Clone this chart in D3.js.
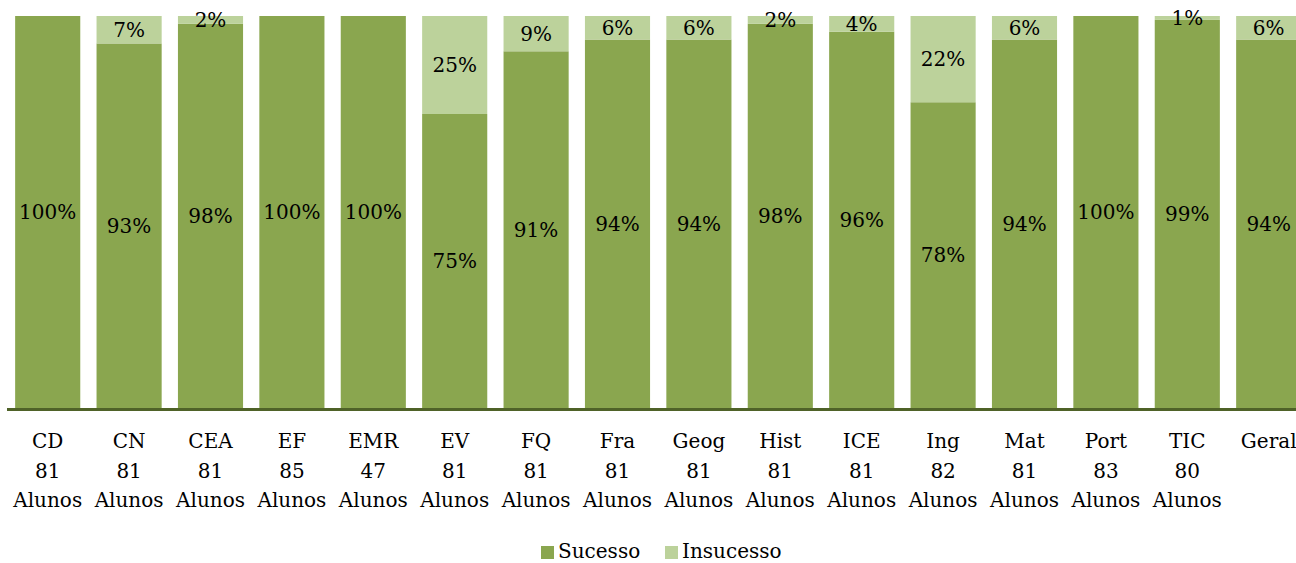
<!DOCTYPE html>
<html><head><meta charset="utf-8">
<script src="https://cdn.jsdelivr.net/npm/d3@7"></script>
<style>
html,body{margin:0;padding:0;background:#fff;}
svg{display:block;}
text{font-family:"DejaVu Serif",serif;fill:#000;}
</style></head>
<body>
<svg id="chart" width="1296" height="563"></svg>
<script>
const categories = ["CD","CN","CEA","EF","EMR","EV","FQ","Fra","Geog","Hist","ICE","Ing","Mat","Port","TIC","Geral"];
const alunos = ["81","81","81","85","47","81","81","81","81","81","81","82","81","83","80",""];
const sucesso = [100,93,98,100,100,75,91,94,94,98,96,78,94,100,99,94];
const insucesso = [0,7,2,0,0,25,9,6,6,2,4,22,6,0,1,6];
const seriesNames = ["Sucesso","Insucesso"];
const colors = ["#8aa64f","#bcd29b"];

const svg = d3.select("#chart");
const W = 1296;
const x = d3.scaleBand().domain(categories).range([7, 7 + 16*81.4]).paddingInner(0.2).paddingOuter(0.1);
const y = d3.scaleLinear().domain([0,100]).range([408,16]);

const rows = categories.map((c,i)=>({cat:c, Sucesso:sucesso[i], Insucesso:insucesso[i]}));
const stack = d3.stack().keys(seriesNames)(rows);

const g = svg.append("g");
stack.forEach((layer, li) => {
  const lg = g.append("g");
  lg.selectAll("rect").data(layer).join("rect")
    .attr("x", d => x(d.data.cat))
    .attr("width", x.bandwidth())
    .attr("y", d => y(d[1]))
    .attr("height", d => y(d[0]) - y(d[1]))
    .attr("fill", colors[li]);
  lg.selectAll("text").data(layer.filter(d => d[1]-d[0] > 0)).join("text")
    .attr("x", d => x(d.data.cat) + x.bandwidth()/2)
    .attr("y", d => (y(d[0]) + y(d[1]))/2)
    .attr("text-anchor","middle")
    .attr("dominant-baseline","central")
    .attr("font-size", 20)
    .text(d => (d[1]-d[0]) + "%");
});

// axis line
svg.append("line").attr("x1",7).attr("x2",W).attr("y1",409.5).attr("y2",409.5)
  .attr("stroke","#4f6228").attr("stroke-width",3);

// category labels
const ax = svg.append("g").attr("transform","translate(0,420)")
  .call(d3.axisBottom(x).tickSize(0).tickPadding(0));
ax.select(".domain").remove();
ax.selectAll(".tick text").each(function(d,i){
  const t = d3.select(this);
  t.text(null).attr("y",0).attr("dy",null)
   .attr("font-size",20).attr("font-family","DejaVu Serif, serif").attr("fill","#000");
  t.append("tspan").attr("x",0).attr("y",28).text(d);
  const idx = categories.indexOf(d);
  if (alunos[idx]) {
    t.append("tspan").attr("x",0).attr("y",57.5).text(alunos[idx]);
    t.append("tspan").attr("x",0).attr("y",87).text("Alunos");
  }
});

// legend
const legend = svg.append("g");
const lx = [541, 665];
seriesNames.forEach((n,i)=>{
  legend.append("rect").attr("x",lx[i]).attr("y",546).attr("width",13).attr("height",13).attr("fill",colors[i]);
  legend.append("text").attr("x",lx[i]+17).attr("y",558).attr("font-size",20).text(n);
});
</script>
</body></html>
